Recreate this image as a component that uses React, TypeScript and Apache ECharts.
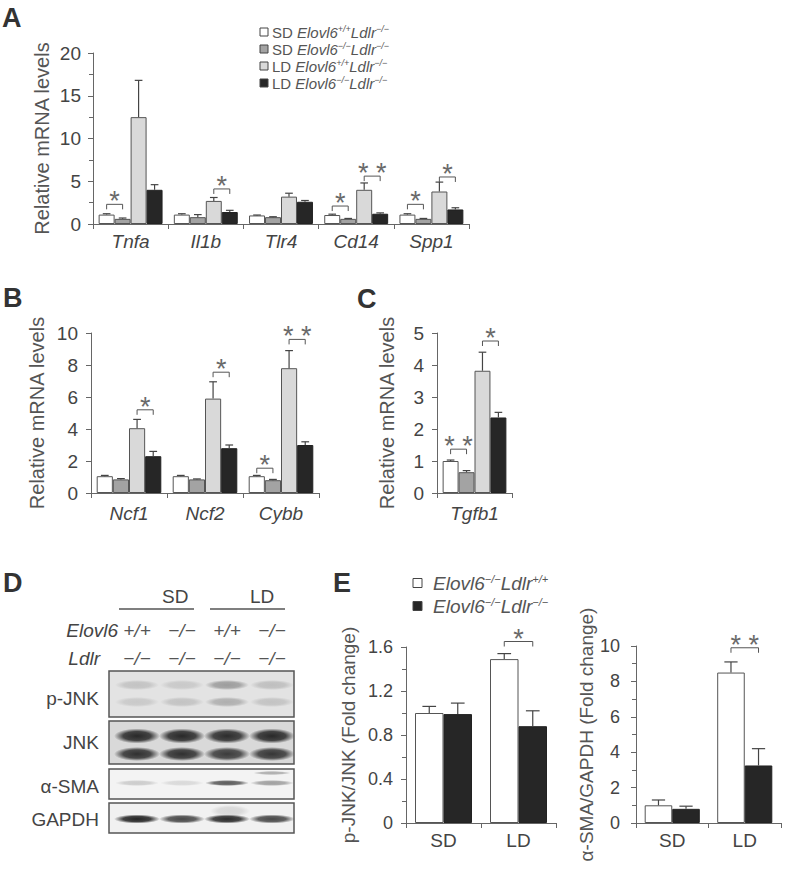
import React, { useEffect, useRef } from 'react';
import * as echarts from 'echarts';

const FONT = 'Liberation Sans';

// ---------- Panel A ----------
const aGenes = ['Tnfa', 'Il1b', 'Tlr4', 'Cd14', 'Spp1'];
const aSdWt = [1.1, 1.1, 1.0, 1.05, 1.1];
const aSdWtSem = [0.1, 0.1, 0.05, 0.1, 0.1];
const aSdKo = [0.6, 0.8, 0.8, 0.6, 0.6];
const aSdKoSem = [0.1, 0.3, 0.05, 0.05, 0.05];
const aLdWt = [12.5, 2.7, 3.2, 4.0, 3.8];
const aLdWtSem = [4.3, 0.4, 0.4, 0.8, 1.1];
const aLdKo = [4.0, 1.4, 2.6, 1.2, 1.7];
const aLdKoSem = [0.6, 0.2, 0.15, 0.1, 0.2];
// [category, bar A, bar B, bracket height, number of stars]
const aSig = [[0, 0, 1, 2.3, 1], [1, 2, 3, 4.1, 1], [3, 0, 1, 2.1, 1], [3, 2, 3, 5.6, 2], [4, 0, 1, 2.3, 1], [4, 2, 3, 5.5, 1]];

// ---------- Panel B ----------
const bGenes = ['Ncf1', 'Ncf2', 'Cybb'];
const bSdWt = [1.05, 1.05, 1.05];
const bSdWtSem = [0.05, 0.05, 0.05];
const bSdKo = [0.85, 0.85, 0.8];
const bSdKoSem = [0.05, 0.03, 0.05];
const bLdWt = [4.05, 5.9, 7.8];
const bLdWtSem = [0.55, 1.05, 1.1];
const bLdKo = [2.3, 2.8, 3.0];
const bLdKoSem = [0.3, 0.2, 0.2];
const bSig = [[0, 2, 3, 5.2, 1], [1, 2, 3, 7.55, 1], [2, 0, 1, 1.55, 1], [2, 2, 3, 9.6, 2]];

// ---------- Panel C ----------
const cGenes = ['Tgfb1'];
const cSdWt = [1.0];
const cSdWtSem = [0.03];
const cSdKo = [0.65];
const cSdKoSem = [0.05];
const cLdWt = [3.82];
const cLdWtSem = [0.58];
const cLdKo = [2.36];
const cLdKoSem = [0.16];
const cSig = [[0, 0, 1, 1.37, 2], [0, 2, 3, 4.75, 1]];

// ---------- Panel E ----------
const eDiets = ['SD', 'LD'];
const ePjnkA = [1.0, 1.49];
const ePjnkASem = [0.06, 0.05];
const ePjnkB = [0.99, 0.88];
const ePjnkBSem = [0.1, 0.14];
const eSmaA = [1.0, 8.5];
const eSmaASem = [0.3, 0.6];
const eSmaB = [0.8, 3.25];
const eSmaBSem = [0.15, 0.95];
const ePjnkSig = [[1, 0, 1, 1.65, 1]];
const eSmaSig = [[1, 0, 1, 9.9, 2]];

// ---------- Panel D (western blot) ----------
const dDiets = ['SD', 'LD'];
const dElovl6 = ['+/+', '\u2212/\u2212', '+/+', '\u2212/\u2212'];
const dLdlr = ['\u2212/\u2212', '\u2212/\u2212', '\u2212/\u2212', '\u2212/\u2212'];
const dRows = ['p-JNK', 'JNK', '\u03b1-SMA', 'GAPDH'];
const dPjnkUpper = [0.16, 0.13, 0.35, 0.18];
const dPjnkLower = [0.13, 0.16, 0.26, 0.16];
const dJnkUpper = [0.92, 0.92, 0.9, 0.92];
const dJnkLower = [0.88, 0.88, 0.82, 0.85];
const dSma = [0.18, 0.12, 0.7, 0.38];
const dSmaExtra = [0, 0, 0, 0.32];
const dGapdh = [0.95, 0.78, 0.92, 0.78];

const groupNames = ['SD Elovl6+/+Ldlr\u2212/\u2212', 'SD Elovl6\u2212/\u2212Ldlr\u2212/\u2212', 'LD Elovl6+/+Ldlr\u2212/\u2212', 'LD Elovl6\u2212/\u2212Ldlr\u2212/\u2212'];
const eNames = ['Elovl6\u2212/\u2212Ldlr+/+', 'Elovl6\u2212/\u2212Ldlr\u2212/\u2212'];

const COLORS4 = ['#ffffff', '#a3a3a3', '#d9d9d9', '#262626'];
const COLORS2 = ['#ffffff', '#262626'];

function barX(center: number, band: number, idx: number, n: number, gap: number) {
  const groupW = band * (1 - gap);
  const bw = groupW / n;
  return { x: center - groupW / 2 + bw * (idx + 0.5), bw };
}

function errRender(n: number, gap: number) {
  return (params: any, api: any) => {
    const cat = api.value(0), si = api.value(1), m = api.value(2), t = api.value(3);
    const pm = api.coord([cat, m]);
    const pt = api.coord([cat, t]);
    const band = api.size([1, 0])[0];
    const { x, bw } = barX(pm[0], band, si, n, gap);
    const cap = bw * 0.24;
    const st = { stroke: '#444', lineWidth: 1.2 };
    return {
      type: 'group',
      children: [
        { type: 'line', shape: { x1: x, y1: pm[1], x2: x, y2: pt[1] }, style: st },
        { type: 'line', shape: { x1: x - cap, y1: pt[1], x2: x + cap, y2: pt[1] }, style: st },
      ],
    };
  };
}

function sigRender(n: number, gap: number, starSize: number) {
  return (params: any, api: any) => {
    const cat = api.value(0), a = api.value(1), b = api.value(2), y = api.value(3), k = api.value(4);
    const p = api.coord([cat, y]);
    const band = api.size([1, 0])[0];
    const xa = barX(p[0], band, a, n, gap).x;
    const xb = barX(p[0], band, b, n, gap).x;
    const t = k === 2 ? '* *' : '*';
    return {
      type: 'group',
      children: [
        {
          type: 'polyline',
          shape: { points: [[xa, p[1] + 5], [xa, p[1]], [xb, p[1]], [xb, p[1] + 5]] },
          style: { stroke: '#555', lineWidth: 1, fill: null },
        },
        {
          type: 'text',
          x: (xa + xb) / 2,
          y: p[1] - 3,
          style: {
            text: t, fontSize: starSize, fontFamily: FONT, fill: '#6a6a6a',
            align: 'center', verticalAlign: 'middle', textAlign: 'center', textVerticalAlign: 'middle',
          },
        },
      ],
    };
  };
}

function errData(means: number[][], sems: number[][]) {
  const out: number[][] = [];
  means.forEach((arr, si) => arr.forEach((m, ci) => out.push([ci, si, m, m + sems[si][ci]])));
  return out;
}

function catAxis(gridIndex: number, data: string[], italic: boolean, margin = 8) {
  return {
    type: 'category', gridIndex, data,
    axisLine: { show: true, lineStyle: { color: '#666', width: 1 } },
    axisTick: { show: true, length: 5, lineStyle: { color: '#666' } },
    axisLabel: { color: '#444', fontSize: 19, fontFamily: FONT, fontStyle: italic ? 'italic' : 'normal', margin },
    splitLine: { show: false },
  };
}

function valAxis(gridIndex: number, max: number, interval: number, name: string, nameGap: number, minor: boolean, margin: number, nameSize: number, labelSize: number, fmt?: any) {
  return {
    type: 'value', gridIndex, min: 0, max, interval, name,
    nameLocation: 'middle', nameGap, nameRotate: 90,
    nameTextStyle: { color: '#555', fontSize: nameSize, fontFamily: FONT },
    axisLine: { show: true, onZero: false, lineStyle: { color: '#666' } },
    axisTick: { show: true, length: 5, lineStyle: { color: '#666' } },
    minorTick: { show: minor, splitNumber: 2, length: 4, lineStyle: { color: '#666' } },
    axisLabel: { color: '#444', fontSize: labelSize, fontFamily: FONT, margin, formatter: fmt },
    splitLine: { show: false },
    minorSplitLine: { show: false },
  };
}

function barSeries(names: string[], colors: string[], means: number[][], axisIdx: number, gapPct: string) {
  return means.map((d, i) => ({
    type: 'bar', name: names[i], xAxisIndex: axisIdx, yAxisIndex: axisIdx, data: d,
    barGap: '0%', barCategoryGap: gapPct, silent: true,
    itemStyle: { color: colors[i], borderColor: i === 3 || (colors.length === 2 && i === 1) ? '#222' : '#555', borderWidth: 1 },
  }));
}

function legendGraphic(names: string[][], colors: string[], x: number, ys: number[], sq: number, fontSize: number, textGap: number) {
  const out: any[] = [];
  names.forEach((parts, i) => {
    out.push({
      type: 'rect', shape: { x, y: ys[i] - sq / 2, width: sq, height: sq },
      style: { fill: colors[i], stroke: '#444', lineWidth: 1 },
    });
    const [prefix, g1, s1, g2, s2] = parts;
    const text = (prefix ? `{n|${prefix} }` : '') + `{i|${g1}}{s|${s1}}{i|${g2}}{s|${s2}}`;
    out.push({
      type: 'text', x: x + sq + textGap, y: ys[i],
      style: {
        text,
        fill: '#555',
        verticalAlign: 'middle', textVerticalAlign: 'middle',
        rich: {
          n: { fontSize, fontFamily: FONT, fill: '#555' },
          i: { fontSize, fontFamily: FONT, fontStyle: 'italic', fill: '#555' },
          s: { fontSize: Math.round(fontSize * 0.6), fontFamily: FONT, fontStyle: 'italic', fill: '#555', verticalAlign: 'top' },
        },
      },
    });
  });
  return out;
}

function band(cx: number, cy: number, rx: number, ry: number, a: number) {
  return {
    type: 'ellipse',
    shape: { cx, cy, rx, ry },
    silent: true,
    style: {
      fill: new echarts.graphic.RadialGradient(0.5, 0.5, 0.5, [
        { offset: 0, color: `rgba(25,25,25,${a})` },
        { offset: 0.6, color: `rgba(25,25,25,${a * 0.85})` },
        { offset: 1, color: 'rgba(25,25,25,0)' },
      ]),
    },
  };
}

function txt(text: string, x: number, y: number, opts: any = {}) {
  const align = opts.align || 'left';
  return {
    type: 'text', x, y,
    style: {
      text, fontSize: opts.fontSize || 19, fontFamily: FONT, fill: opts.fill || '#444',
      fontStyle: opts.italic ? 'italic' : 'normal', fontWeight: opts.bold ? 'bold' : 'normal',
      align, textAlign: align, verticalAlign: 'middle', textVerticalAlign: 'middle',
    },
  };
}

function blotGraphic() {
  const els: any[] = [];
  const lanes = [137, 182, 227, 272];
  const boxX = 109, boxW = 185;
  const boxes = [
    { y: 671, h: 46, bg: '#e3e3e3' },
    { y: 721, h: 43, bg: '#d9d9d9' },
    { y: 769, h: 30, bg: '#f3f3f3' },
    { y: 803, h: 30, bg: '#f1f1f1' },
  ];
  const labelYs = [698, 742, 786, 819];
  els.push(txt(dDiets[0], 162, 596));
  els.push(txt(dDiets[1], 250, 596));
  els.push({ type: 'line', shape: { x1: 119, y1: 609, x2: 194, y2: 609 }, style: { stroke: '#555', lineWidth: 1.5 } });
  els.push({ type: 'line', shape: { x1: 210, y1: 609, x2: 285, y2: 609 }, style: { stroke: '#555', lineWidth: 1.5 } });
  els.push(txt('Elovl6', 118, 630, { align: 'right', italic: true }));
  els.push(txt('Ldlr', 100, 658, { align: 'right', italic: true }));
  lanes.forEach((lx, i) => {
    els.push(txt(dElovl6[i], lx, 630, { align: 'center', italic: true, fill: '#555' }));
    els.push(txt(dLdlr[i], lx, 658, { align: 'center', italic: true, fill: '#555' }));
  });
  boxes.forEach((b, r) => {
    els.push({ type: 'rect', shape: { x: boxX, y: b.y, width: boxW, height: b.h }, style: { fill: b.bg } });
    els.push(txt(dRows[r], 99, labelYs[r], { align: 'right' }));
  });
  lanes.forEach((lx, i) => {
    els.push(band(lx, 685, 22, 5, dPjnkUpper[i]));
    els.push(band(lx, 702, 22, 5, dPjnkLower[i]));
    els.push(band(lx, 736, 23, 7.5, dJnkUpper[i]));
    els.push(band(lx, 754, 23, 7, dJnkLower[i]));
    els.push(band(lx, 783, 22, 3, dSma[i]));
    if (dSmaExtra[i] > 0) els.push(band(lx, 773, 19, 2, dSmaExtra[i]));
    els.push(band(lx, 819, 23, 4.5, dGapdh[i]));
  });
  els.push(band(230, 811, 20, 6, 0.12));
  boxes.forEach((b) => {
    els.push({ type: 'rect', shape: { x: boxX, y: b.y, width: boxW, height: b.h }, style: { fill: 'none', stroke: '#555', lineWidth: 1.5 } });
  });
  return els;
}

export default function App() {
  const ref = useRef<HTMLDivElement>(null);
  useEffect(() => {
    if (!ref.current) return;
    const chart = echarts.init(ref.current, undefined, { renderer: 'svg' });
    const gap4 = 0.15;
    const gapE = 0.24;
    const fmt1 = (v: number) => (v === 0 ? '0' : v.toFixed(1));

    const aMeans = [aSdWt, aSdKo, aLdWt, aLdKo];
    const aSems = [aSdWtSem, aSdKoSem, aLdWtSem, aLdKoSem];
    const bMeans = [bSdWt, bSdKo, bLdWt, bLdKo];
    const bSems = [bSdWtSem, bSdKoSem, bLdWtSem, bLdKoSem];
    const cMeans = [cSdWt, cSdKo, cLdWt, cLdKo];
    const cSems = [cSdWtSem, cSdKoSem, cLdWtSem, cLdKoSem];
    const e1Means = [ePjnkA, ePjnkB];
    const e1Sems = [ePjnkASem, ePjnkBSem];
    const e2Means = [eSmaA, eSmaB];
    const e2Sems = [eSmaASem, eSmaBSem];

    const custom = (axisIdx: number, data: number[][], render: any, z = 3) => ({
      type: 'custom', xAxisIndex: axisIdx, yAxisIndex: axisIdx, data, renderItem: render,
      silent: true, z, encode: { x: 0, y: 3 },
    });

    const legendA = [
      ['SD', 'Elovl6', '+/+', 'Ldlr', '\u2212/\u2212'],
      ['SD', 'Elovl6', '\u2212/\u2212', 'Ldlr', '\u2212/\u2212'],
      ['LD', 'Elovl6', '+/+', 'Ldlr', '\u2212/\u2212'],
      ['LD', 'Elovl6', '\u2212/\u2212', 'Ldlr', '\u2212/\u2212'],
    ];
    const legendE = [
      ['', 'Elovl6', '\u2212/\u2212', 'Ldlr', '+/+'],
      ['', 'Elovl6', '\u2212/\u2212', 'Ldlr', '\u2212/\u2212'],
    ];

    const option: any = {
      animation: false,
      backgroundColor: '#ffffff',
      textStyle: { fontFamily: FONT },
      grid: [
        { left: 93, top: 53, width: 376, height: 171, outerBoundsMode: 'none' },
        { left: 91, top: 333, width: 228, height: 160, outerBoundsMode: 'none' },
        { left: 437, top: 333, width: 75, height: 160, outerBoundsMode: 'none' },
        { left: 406, top: 647, width: 150, height: 176, outerBoundsMode: 'none' },
        { left: 636, top: 646, width: 145, height: 177, outerBoundsMode: 'none' },
      ],
      xAxis: [
        catAxis(0, aGenes, true),
        catAxis(1, bGenes, true, 11),
        catAxis(2, cGenes, true, 11),
        catAxis(3, eDiets, false),
        catAxis(4, eDiets, false),
      ],
      yAxis: [
        valAxis(0, 20, 5, 'Relative mRNA levels', 41, true, 12, 20, 19),
        valAxis(1, 10, 2, 'Relative mRNA levels', 44, false, 13, 20, 19),
        valAxis(2, 5, 1, 'Relative mRNA levels', 40, false, 13, 20, 19),
        valAxis(3, 1.6, 0.4, 'p-JNK/JNK (Fold change)', 48, true, 13, 19, 18, fmt1),
        valAxis(4, 10, 2, '\u03b1-SMA/GAPDH (Fold change)', 37, true, 16, 19, 18),
      ],
      series: [
        ...barSeries(groupNames, COLORS4, aMeans, 0, '15%'),
        custom(0, errData(aMeans, aSems), errRender(4, gap4)),
        custom(0, aSig, sigRender(4, gap4, 27)),
        ...barSeries(groupNames, COLORS4, bMeans, 1, '15%'),
        custom(1, errData(bMeans, bSems), errRender(4, gap4)),
        custom(1, bSig, sigRender(4, gap4, 27)),
        ...barSeries(groupNames, COLORS4, cMeans, 2, '15%'),
        custom(2, errData(cMeans, cSems), errRender(4, gap4)),
        custom(2, cSig, sigRender(4, gap4, 27)),
        ...barSeries(eNames, COLORS2, e1Means, 3, '24%'),
        custom(3, errData(e1Means, e1Sems), errRender(2, gapE)),
        custom(3, ePjnkSig, sigRender(2, gapE, 27)),
        ...barSeries(eNames, COLORS2, e2Means, 4, '24%'),
        custom(4, errData(e2Means, e2Sems), errRender(2, gapE)),
        custom(4, eSmaSig, sigRender(2, gapE, 27)),
      ],
      graphic: [
        txt('A', 2, 17.5, { fontSize: 27, bold: true, fill: '#333' }),
        txt('B', 3, 297.5, { fontSize: 27, bold: true, fill: '#333' }),
        txt('C', 357, 299, { fontSize: 27, bold: true, fill: '#333' }),
        txt('D', 3, 582.5, { fontSize: 27, bold: true, fill: '#333' }),
        txt('E', 333, 582.5, { fontSize: 27, bold: true, fill: '#333' }),
        ...legendGraphic(legendA, COLORS4, 260, [32, 49, 66, 83], 8, 15, 4),
        ...legendGraphic(legendE, COLORS2, 413, [583, 606], 9, 19, 11),
        ...blotGraphic(),
      ],
    };
    chart.setOption(option);
    return () => chart.dispose();
  }, []);
  return <div ref={ref} style={{ position: 'absolute', left: 0, top: 0, width: 787, height: 871, background: '#fff' }} />;
}
